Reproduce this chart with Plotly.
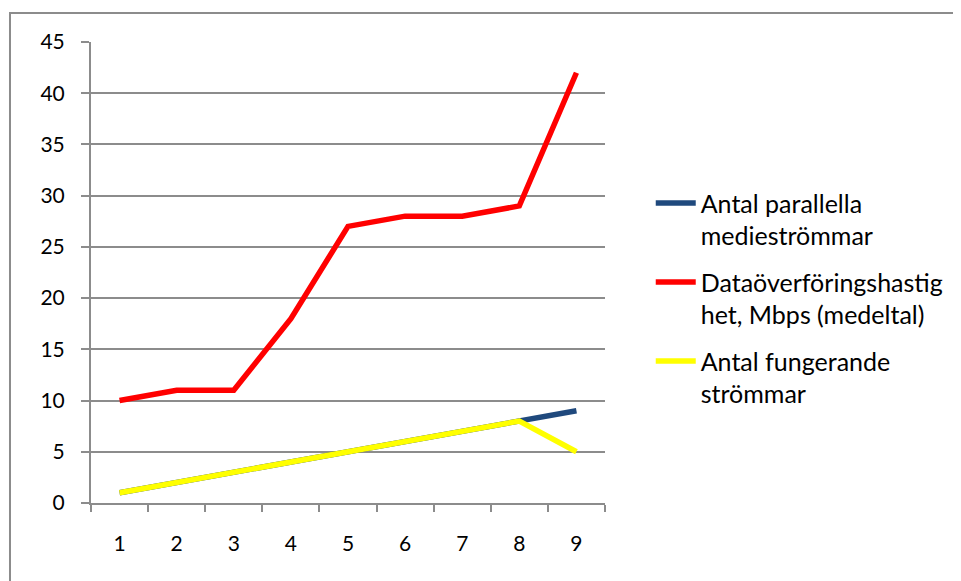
import plotly.graph_objects as go

categories = ["1", "2", "3", "4", "5", "6", "7", "8", "9"]
parallella = [1, 2, 3, 4, 5, 6, 7, 8, 9]
hastighet = [10, 11, 11, 18, 27, 28, 28, 29, 42]
fungerande = [1, 2, 3, 4, 5, 6, 7, 8, 5]
y_ticks = [0, 5, 10, 15, 20, 25, 30, 35, 40, 45]

names = ["Antal parallella<br>medieströmmar",
         "Dataöverföringshastig<br>het, Mbps (medeltal)",
         "Antal fungerande<br>strömmar"]
groups = ["g1", "g2", "g3"]
colors = ["#1F497D", "#FF0000", "#FFFF00"]

FONT = "Lato"
GRID = "#8C8C8C"

fig = go.Figure()
for vals, name, grp, col in zip([parallella, hastighet, fungerande], names, groups, colors):
    fig.add_trace(go.Scatter(x=categories, y=vals, mode="lines", name=name,
                             legendgroup=grp,
                             line=dict(color=col, width=5.5)))

fig.update_layout(
    width=953, height=573,
    margin=dict(l=83, r=356, t=34, b=78),
    paper_bgcolor="white", plot_bgcolor="white",
    font=dict(family=FONT, size=21, color="black"),
    showlegend=True,
    legend=dict(x=1.089, y=0.70, xanchor="left", yanchor="top",
                valign="top", font=dict(size=25), tracegroupgap=11,
                itemwidth=40),
)
fig.update_xaxes(type="category", range=[-0.5, 8.5], tickson="boundaries",
                 showgrid=False, showline=True, linecolor=GRID, linewidth=2,
                 ticks="outside", ticklen=7, tickcolor=GRID, tickwidth=2,
                 ticklabelstandoff=21, zeroline=False)
fig.update_yaxes(range=[0, 45], tickvals=y_ticks, showgrid=True,
                 gridcolor=GRID, gridwidth=1.5, showline=True, linecolor=GRID,
                 linewidth=2, ticks="outside", ticklen=8, tickcolor=GRID,
                 tickwidth=2, ticklabelstandoff=12, zeroline=False)

fig.add_shape(type="rect", xref="paper", yref="paper",
              x0=-0.1576, x1=1.72, y0=-0.2, y1=1.0629,
              line=dict(color=GRID, width=2), layer="below")

fig.write_html("out.html")
